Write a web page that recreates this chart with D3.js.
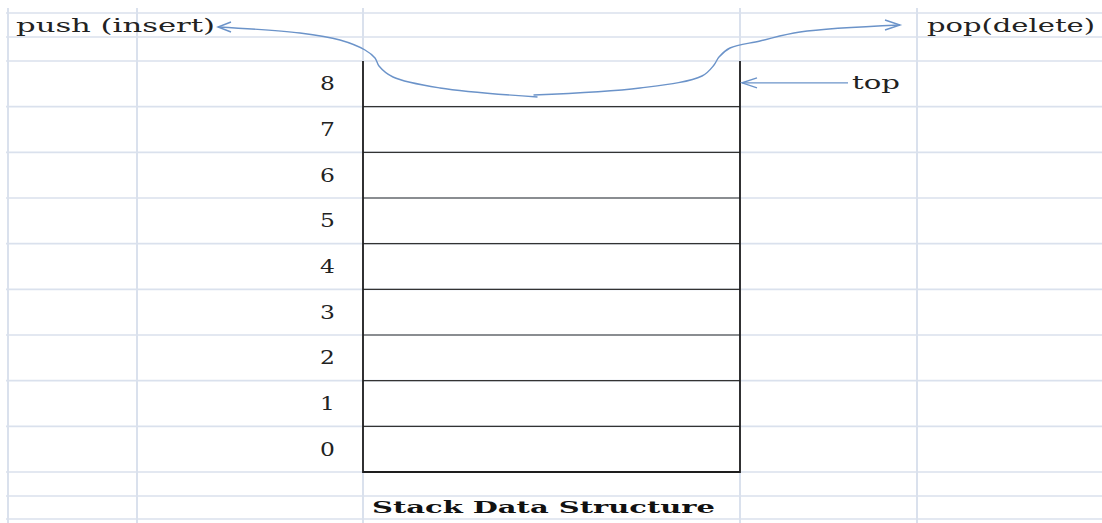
<!DOCTYPE html>
<html>
<head>
<meta charset="utf-8">
<script src="https://cdn.jsdelivr.net/npm/d3@7"></script>
<style>
  body { margin: 0; background: #fff; }
  svg { display: block; }
</style>
</head>
<body>
<svg id="chart"></svg>
<script>
// stack slots, top to bottom
var slots = [8, 7, 6, 5, 4, 3, 2, 1, 0];
var slotLabels = ["8", "7", "6", "5", "4", "3", "2", "1", "0"];
var pushLabel = "push (insert)";
var popLabel = "pop(delete)";
var topLabel = "top";
var title = "Stack Data Structure";

var width = 1102,
    height = 523;

var svg = d3.select("#chart")
    .attr("width", width)
    .attr("height", height);

var gridColor = "#dae1ed",
    blue = "#6b93c9",
    ink = "#1e1e1e";

// stack geometry
var stackLeft = 363,
    stackRight = 740;

var y = d3.scaleBand()
    .domain(slots)
    .range([61, 472]);

// spreadsheet grid
var colLines = [8, 137, stackLeft, stackRight, 917];
var rowLines = [13, 37].concat(slots.map(function(d) { return y(d); }))
    .concat([y.range()[1], 496, 519]);

svg.append("g").selectAll("line")
    .data(rowLines)
  .enter().append("line")
    .attr("x1", 6).attr("x2", width)
    .attr("y1", function(d) { return d; })
    .attr("y2", function(d) { return d; })
    .style("stroke", gridColor)
    .style("stroke-width", 1.6);

svg.append("g").selectAll("line")
    .data(colLines)
  .enter().append("line")
    .attr("x1", function(d) { return d; })
    .attr("x2", function(d) { return d; })
    .attr("y1", 8).attr("y2", height)
    .style("stroke", gridColor)
    .style("stroke-width", 2);

// stack body
var stack = svg.append("g");

stack.selectAll(".cell")
    .data(slots.slice(0, slots.length - 1))
  .enter().append("line")
    .attr("class", "cell")
    .attr("x1", stackLeft).attr("x2", stackRight)
    .attr("y1", function(d) { return y(d) + y.bandwidth(); })
    .attr("y2", function(d) { return y(d) + y.bandwidth(); })
    .style("stroke", "#333")
    .style("stroke-width", 1.2);

stack.append("path")
    .attr("d", "M" + stackLeft + "," + y.range()[0] +
               "V" + y.range()[1] +
               "H" + stackRight +
               "V" + y.range()[0])
    .style("fill", "none")
    .style("stroke", ink)
    .style("stroke-width", 1.8);

// slot numbers
stack.selectAll(".num")
    .data(slots)
  .enter().append("text")
    .attr("class", "num")
    .attr("transform", function(d) {
      return "translate(" + (stackLeft - 28) + "," + (y(d) + y.bandwidth() / 2 + 6.5) + ") scale(1.3,1)";
    })
    .attr("text-anchor", "end")
    .style("font-family", "'DejaVu Serif', serif")
    .style("font-size", "18px")
    .style("fill", "#222")
    .text(function(d, i) { return slotLabels[i]; });

// curved push / pop arrows
var line = d3.line().curve(d3.curveCatmullRom.alpha(0.5));
var top0 = y.range()[0];
var midX = (stackLeft + stackRight) / 2;

var pushPts = [
  [218, 27], [300, 33], [stackLeft - 23, 40], [stackLeft + 2, 50],
  [stackLeft + 12, top0 - 3], [stackLeft + 16, top0 + 5], [stackLeft + 30, top0 + 16],
  [stackLeft + 77, top0 + 27], [midX - 14, top0 + 36]
];
var popPts = [
  [midX - 18, top0 + 34], [stackRight - 100, top0 + 27], [stackRight - 38, top0 + 15],
  [stackRight - 26, top0 + 4], [stackRight - 21, top0 - 4], [stackRight - 10, top0 - 13],
  [stackRight + 20, top0 - 20], [stackRight + 60, 32], [900, 25]
];

var arrows = svg.append("g")
    .style("fill", "none")
    .style("stroke", blue)
    .style("stroke-width", 1.4);

arrows.append("path").attr("d", line(pushPts));
arrows.append("path").attr("d", line(popPts));

function head(x, yy, dir, len, half) {
  return "M" + (x - dir * len) + "," + (yy - half) + "L" + x + "," + yy + "L" + (x - dir * len) + "," + (yy + half);
}
arrows.append("path").attr("d", head(218, 27, -1, 13, 5));
arrows.append("path").attr("d", head(900, 25, 1, 15, 5));

// top pointer
var topY = y(8) + y.bandwidth() / 2 - 1;
arrows.append("path").attr("d", "M" + (stackRight + 2) + "," + topY + "H848");
arrows.append("path").attr("d", head(stackRight + 2, topY, -1, 15, 5));

// labels
var labels = svg.append("g")
    .style("font-family", "'DejaVu Serif', serif")
    .style("fill", "#222");

labels.append("text")
    .attr("x", 16).attr("y", 32)
    .attr("textLength", 199).attr("lengthAdjust", "spacingAndGlyphs")
    .style("font-size", "18px")
    .text(pushLabel);

labels.append("text")
    .attr("x", 927).attr("y", 32)
    .attr("textLength", 168).attr("lengthAdjust", "spacingAndGlyphs")
    .style("font-size", "18px")
    .text(popLabel);

labels.append("text")
    .attr("x", 852).attr("y", 89)
    .attr("textLength", 48).attr("lengthAdjust", "spacingAndGlyphs")
    .style("font-size", "18px")
    .text(topLabel);

labels.append("text")
    .attr("x", 372).attr("y", 513)
    .attr("textLength", 343).attr("lengthAdjust", "spacingAndGlyphs")
    .style("font-size", "16px")
    .style("font-weight", "bold")
    .style("fill", "#111")
    .text(title);
</script>
</body>
</html>
